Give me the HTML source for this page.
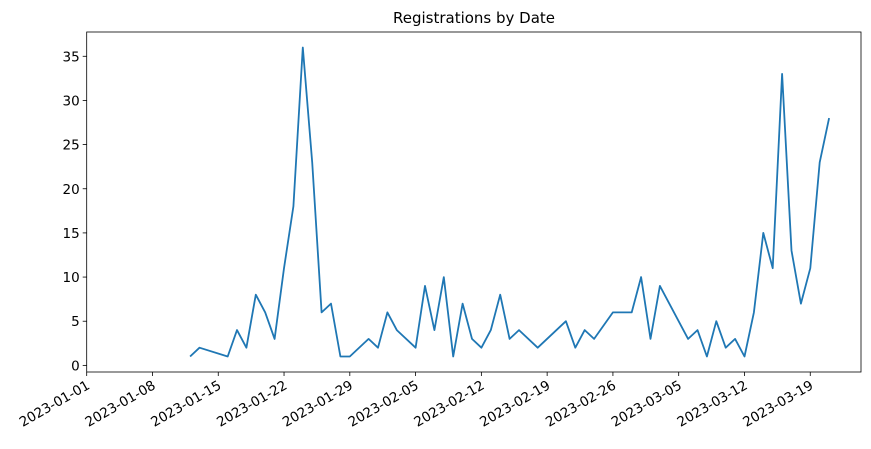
<!DOCTYPE html>
<html><head><meta charset="utf-8"><style>
body{margin:0;background:#fff;}
svg text{font-family:"DejaVu Sans","Liberation Sans",sans-serif;font-size:13.5px;fill:#000;}
</style></head><body>
<svg id="chart" width="871" height="444" xmlns="http://www.w3.org/2000/svg">
<text x="474" y="23" text-anchor="middle" style="font-size:15px">Registrations by Date</text>
<g id="axes"></g>
</svg>
<script>
const days = [11,12,15,16,17,18,19,20,21,22,23,24,25,26,27,28,30,31,32,33,35,36,37,38,39,40,41,42,43,44,45,46,48,51,52,53,54,56,58,59,60,61,64,65,66,67,68,69,70,71,72,73,74,75,76,77,78,79];
const counts = [1,2,1,4,2,8,6,3,11,18,36,23,6,7,1,1,3,2,6,4,2,9,4,10,1,7,3,2,4,8,3,4,2,5,2,4,3,6,6,10,3,9,3,4,1,5,2,3,1,6,15,11,33,13,7,11,23,28];
const xTickDays = [0,7,14,21,28,35,42,49,56,63,70,77];
const xTickLabels = ["2023-01-01","2023-01-08","2023-01-15","2023-01-22","2023-01-29","2023-02-05","2023-02-12","2023-02-19","2023-02-26","2023-03-05","2023-03-12","2023-03-19"];
const yTicks = [0,5,10,15,20,25,30,35];

const L=86.7,R=861,T=32,B=372;
const x0=0,x1=82.4,y0=-0.75,y1=37.75;
const xs=d=>L+(d-x0)/(x1-x0)*(R-L);
const ys=v=>B-(v-y0)/(y1-y0)*(B-T);
const NS="http://www.w3.org/2000/svg";
const g=document.getElementById('axes');
function mk(tag,attrs){const e=document.createElementNS(NS,tag);for(const k in attrs)e.setAttribute(k,attrs[k]);g.appendChild(e);return e;}

yTicks.forEach(v=>{
  const y=ys(v);
  const t=mk('line',{x1:L-4,x2:L,y1:y,y2:y,stroke:'#000','stroke-width':0.8});
  
  
  const l=mk('text',{x:L-7,y:y+5,'text-anchor':'end'});
  
  
  l.textContent=v;
});
xTickDays.forEach((d,i)=>{
  const x=xs(d);
  const t=mk('line',{x1:x,x2:x,y1:B,y2:B+4,stroke:'#000','stroke-width':0.8});
  
  
  const l=mk('text',{x:x,y:B+17,'text-anchor':'end',transform:`rotate(-30 ${x} ${B+9})`});
  
  
  l.textContent=xTickLabels[i];
});
const pts=days.map((d,i)=>xs(d).toFixed(1)+','+ys(counts[i]).toFixed(1)).join(' ');
const line=mk('polyline',{points:pts,fill:'none',stroke:'#1f77b4','stroke-width':1.8,'stroke-linejoin':'round'});


const frame=mk('rect',{x:L,y:T,width:R-L,height:B-T,fill:'none',stroke:'#000','stroke-width':0.8});


</script>
</body></html>
